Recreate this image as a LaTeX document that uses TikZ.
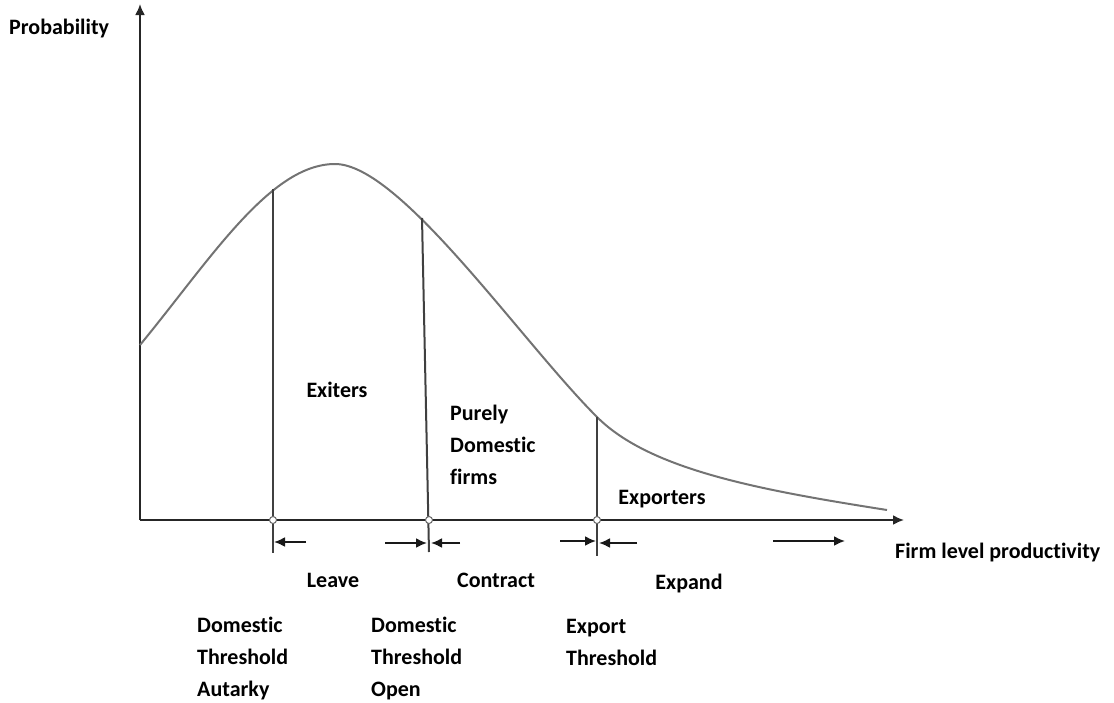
\documentclass[tikz,border=0pt]{standalone}
\usepackage{fontspec}
\setmainfont[Ligatures={NoCommon}]{Carlito}
\usetikzlibrary{arrows.meta}
\begin{document}
\begin{tikzpicture}[x=1pt,y=-1pt,
  lbl/.style={font=\bfseries\fontsize{22}{32}\selectfont, inner sep=0pt},
  tip/.tip={Latex[length=11pt,width=10pt]},
  marker/.style={-tip, line width=2pt, black!90}]
\useasboundingbox (0,0) rectangle (1114,702);
% axes
\coordinate (o) at (140,520);
\draw [-tip, line width=2pt, black!85] (o) -- (140,4);
\draw [-tip, line width=2pt, black!85] (o) -- (904,520);
\node [lbl, right] (prob) at (9,29) {Probability};
\node [lbl, right] (xlab) at (895,553) {Firm level productivity};
% density
\draw [line width=2pt, black!55] (140,345)
  .. controls (210,260) and (270,164) .. (335,164)
  .. controls (400,164) and (520,340) .. (597,417)
  .. controls (650,470) and (760,490) .. (887,510);
% thresholds
\coordinate (t1) at (273,520);
\coordinate (t2) at (429,520);
\coordinate (t3) at (597,520);
\draw [line width=2pt, black!75] (273,189) -- (273,553);
\draw [line width=2pt, black!75] (422,218) -- (429,552);
\draw [line width=2pt, black!75] (597,417) -- (597,556);
\foreach \t in {t1,t2,t3}
  \draw [black!60, fill=white, line width=1pt] (\t) circle (3.5);
% movements
\draw [marker] (306,542) -- (274,542);
\draw [marker] (385,543) -- (427,543);
\draw [marker] (460,543) -- (431,543);
\draw [marker] (560,541) -- (596,541);
\draw [marker] (637,543) -- (599,543);
\draw [marker] (773,541) -- (845,541);
% regions
\node [lbl] (exit) at (337,390) {Exiters};
\node [lbl, right, align=left] (dom) at (450,445) {Purely\\Domestic\\firms};
\node [lbl] (expo) at (662,499) {Exporters};
\node [lbl] (leave) at (333,580) {Leave};
\node [lbl] (contr) at (496,580) {Contract};
\node [lbl] (expand) at (689,584) {Expand};
\node [lbl, right, align=left] (tha) at (197,658) {Domestic\\Threshold\\Autarky};
\node [lbl, right, align=left] (tho) at (371,658) {Domestic\\Threshold\\Open};
\node [lbl, right, align=left] (the) at (566,642) {Export\\Threshold};
\end{tikzpicture}
\end{document}
